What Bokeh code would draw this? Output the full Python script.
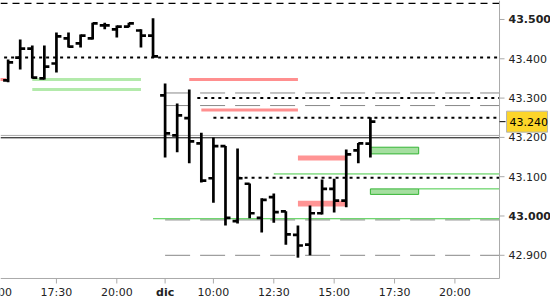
from bokeh.plotting import figure
from bokeh.models import Range1d, ColumnDataSource
from bokeh.core.properties import value
from bokeh.embed import file_html
from bokeh.resources import INLINE

# ---------------- data ----------------
# 30-minute bars: "<session day> <start time>" (day 2 = "dic")
bar_time = ["1 15:30", "1 16:00", "1 16:30", "1 17:00", "1 17:30", "1 18:00", "1 18:30",
            "1 19:00", "1 19:30", "1 20:00", "1 20:30", "1 21:00", "1 21:30",
            "2 08:00", "2 08:30", "2 09:00", "2 09:30", "2 10:00", "2 10:30", "2 11:00",
            "2 11:30", "2 12:00", "2 12:30", "2 13:00", "2 13:30", "2 14:00", "2 14:30",
            "2 15:00", "2 15:30", "2 16:00", "2 16:30"]
bar_open = [43.345, 43.403, 43.426, 43.350, 43.388, 43.452, 43.439, 43.452, 43.485, 43.475,
            43.482, 43.472, 43.459,
            43.307, 43.205, 43.249, 43.185, 43.096, 43.178, 42.987, 43.082, 42.995, 43.048,
            43.012, 42.952, 42.927, 43.007, 43.069, 43.039, 43.167, 43.184]
bar_high = [43.398, 43.449, 43.434, 43.434, 43.467, 43.467, 43.462, 43.492, 43.492, 43.485,
            43.492, 43.475, 43.503,
            43.337, 43.286, 43.322, 43.212, 43.200, 43.178, 43.172, 43.083, 43.045, 43.057,
            43.012, 42.976, 43.027, 43.093, 43.095, 43.169, 43.186, 43.251]
bar_low = [43.340, 43.373, 43.350, 43.347, 43.365, 43.429, 43.429, 43.449, 43.475, 43.454,
           43.480, 43.429, 43.403,
           43.149, 43.162, 43.134, 43.085, 43.034, 42.976, 42.981, 42.994, 42.958, 42.983,
           42.927, 42.894, 42.900, 43.004, 43.009, 43.022, 43.134, 43.149]
bar_close = [43.391, 43.426, 43.352, 43.380, 43.457, 43.431, 43.459, 43.490, 43.485, 43.482,
             43.490, 43.459, 43.406,
             43.210, 43.256, 43.190, 43.090, 43.178, 42.995, 43.096, 43.007, 43.041, 43.010,
             42.953, 42.925, 43.007, 43.069, 43.039, 43.157, 43.185, 43.240]
last_price = 43.240

# reference levels
dotted_level = [43.403, 43.300, 43.250, 43.097]
dotted_from = ["1 15:20", "2 09:20", "2 10:00", "2 11:00"]
grey_dash_level = [43.313, 43.281, 42.990, 42.900]
grey_dash_from = ["2 08:00", "2 08:00", "2 08:00", "2 08:00"]
green_line_level = [43.107, 43.069, 42.993]
green_line_from = ["2 12:30", "2 18:30", "1 21:30"]
full_solid_level = [43.205, 43.199]
top_dash_level = [43.541]
pink_line_level = [43.347, 43.270, 43.347]
pink_line_from = ["2 09:00", "2 09:30", "1 15:00"]
pink_line_to = ["2 13:30", "2 13:30", "1 15:25"]
pink_band_top = [43.154, 43.039]
pink_band_bottom = [43.141, 43.024]
pink_band_from = ["2 13:30", "2 13:30"]
pink_band_to = ["2 15:30", "2 15:30"]
light_green_level = [43.347, 43.322]
light_green_from = ["1 16:30", "1 16:30"]
light_green_to = ["1 21:00", "1 21:00"]
green_box_top = [43.175, 43.069]
green_box_bottom = [43.158, 43.055]
green_box_from = ["2 16:30", "2 16:30"]
green_box_to = ["2 18:30", "2 18:30"]

x_tick_time = ["1 15:00", "1 17:30", "1 20:00", "2 08:00", "2 10:00", "2 12:30", "2 15:00",
               "2 17:30", "2 20:00"]
x_tick_label = ["15:00", "17:30", "20:00", "dic", "10:00", "12:30", "15:00", "17:30", "20:00"]
x_tick_bold = [False, False, False, True, False, False, False, False, False]
y_ticks = [42.9, 43.0, 43.1, 43.2, 43.3, 43.4, 43.5]
y_tick_bold = [False, True, False, False, False, False, True]

SESSION_START, SESSION_LEN = 8, 14


def sx(s):
    d, hm = s.split()
    h, m = hm.split(":")
    return (int(d) - 1) * SESSION_LEN + int(h) + int(m) / 60 - SESSION_START


# ---------------- layout ----------------
W, H = 550, 300
X0, X1 = 7.184, 29.958          # visible session-hours
Y0, Y1 = 42.785, 43.5483        # visible prices
AX_X = 27.847                   # right price axis position
AX_Y = 42.841                   # bottom time axis position


def dxp(px):
    return px * (X1 - X0) / W


def dyp(px):
    return px * (Y1 - Y0) / H


FONT = "DejaVu Sans"
TXT = "#222222"
AXC = "#aaaaaa"

p = figure(width=W, height=H, output_backend="svg", toolbar_location=None,
           x_range=Range1d(X0, X1), y_range=Range1d(Y0, Y1),
           x_axis_location=None, y_axis_location=None, min_border=0)
p.outline_line_color = None
p.xgrid.visible = False
p.ygrid.visible = False
p.background_fill_color = "white"
p.border_fill_color = "white"

# ---- reference lines ----
p.segment(x0=[X0] * len(top_dash_level), x1=[AX_X] * len(top_dash_level),
          y0=top_dash_level, y1=top_dash_level, line_color="black", line_width=1.2, line_dash="7 5")
p.segment(x0=[sx(s) for s in light_green_from], x1=[sx(s) for s in light_green_to],
          y0=light_green_level, y1=light_green_level, line_color="#b3eaab", line_width=3)
p.segment(x0=[sx(s) for s in pink_line_from], x1=[sx(s) for s in pink_line_to],
          y0=pink_line_level, y1=pink_line_level, line_color="#ff8f8f", line_width=3)
p.quad(left=[sx(s) for s in pink_band_from], right=[sx(s) for s in pink_band_to],
       top=pink_band_top, bottom=pink_band_bottom, fill_color="#ff9494", line_color=None)
p.segment(x0=[sx(s) for s in grey_dash_from], x1=[AX_X] * len(grey_dash_level),
          y0=grey_dash_level, y1=grey_dash_level, line_color="#888888", line_width=1, line_dash="25 10")
p.segment(x0=[X0] * 2, x1=[AX_X] * 2, y0=full_solid_level, y1=full_solid_level,
          line_color=["#aaaaaa", "black"], line_width=1)
p.segment(x0=[sx(s) for s in green_line_from], x1=[AX_X] * len(green_line_level),
          y0=green_line_level, y1=green_line_level, line_color="#44c944", line_width=1)
p.segment(x0=[sx(s) for s in dotted_from], x1=[AX_X] * len(dotted_level),
          y0=dotted_level, y1=dotted_level, line_color="black", line_width=2, line_dash="3 4")
p.quad(left=[sx(s) for s in green_box_from], right=[sx(s) for s in green_box_to],
       top=green_box_top, bottom=green_box_bottom, fill_color="#a5dfa0",
       line_color="#35b535", line_width=1)

# ---- OHLC bars ----
TICK = dxp(5)
bx = [sx(s) for s in bar_time]
src = ColumnDataSource(dict(x=bx, xl=[x - TICK for x in bx], xr=[x + TICK for x in bx],
                            o=bar_open, h=bar_high, l=bar_low, c=bar_close))
p.segment(x0="x", x1="x", y0="l", y1="h", source=src, line_color="black", line_width=2.7)
p.segment(x0="xl", x1="x", y0="o", y1="o", source=src, line_color="black", line_width=2.7)
p.segment(x0="x", x1="xr", y0="c", y1="c", source=src, line_color="black", line_width=2.7)

# ---- axes (price on the right, time below) ----
p.segment(x0=[AX_X, X0], x1=[AX_X, AX_X], y0=[AX_Y, AX_Y], y1=[Y1, AX_Y],
          line_color=AXC, line_width=1)
p.segment(x0=[AX_X] * len(y_ticks), x1=[AX_X + dxp(5)] * len(y_ticks),
          y0=y_ticks, y1=y_ticks, line_color=AXC, line_width=1)
xt = [sx(s) for s in x_tick_time]
p.segment(x0=xt, x1=xt, y0=[AX_Y] * len(xt), y1=[AX_Y - dyp(5)] * len(xt),
          line_color=AXC, line_width=1)

ylab_x = AX_X + dxp(9)
for bold in (False, True):
    sel = [i for i, b in enumerate(y_tick_bold) if b == bold]
    p.text(x=[ylab_x] * len(sel), y=[y_ticks[i] for i in sel],
           text=[f"{y_ticks[i]:.3f}" for i in sel],
           text_font=value(FONT), text_font_size="11px",
           text_font_style="bold" if bold else "normal", text_color=TXT,
           text_align="left", text_baseline="middle")
    sel = [i for i, b in enumerate(x_tick_bold) if b == bold]
    p.text(x=[xt[i] for i in sel], y=[AX_Y - dyp(8)] * len(sel),
           text=[x_tick_label[i] for i in sel],
           text_font=value(FONT), text_font_size="11px",
           text_font_style="bold" if bold else "normal", text_color=TXT,
           text_align="center", text_baseline="top")

# last price marker
p.segment(x0=[AX_X], x1=[AX_X + dxp(6)], y0=[last_price], y1=[last_price],
          line_color="black", line_width=1)
p.quad(left=[AX_X + dxp(7)], right=[AX_X + dxp(48)],
       top=[last_price + dyp(10.5)], bottom=[last_price - dyp(10.5)],
       fill_color="#fcd52a", line_color="#b4b4b4", line_width=1)
p.text(x=[AX_X + dxp(10)], y=[last_price], text=[f"{last_price:.3f}"],
       text_font=value(FONT), text_font_size="11px", text_color="black",
       text_align="left", text_baseline="middle")

open("out.html", "w").write(file_html(p, INLINE))
